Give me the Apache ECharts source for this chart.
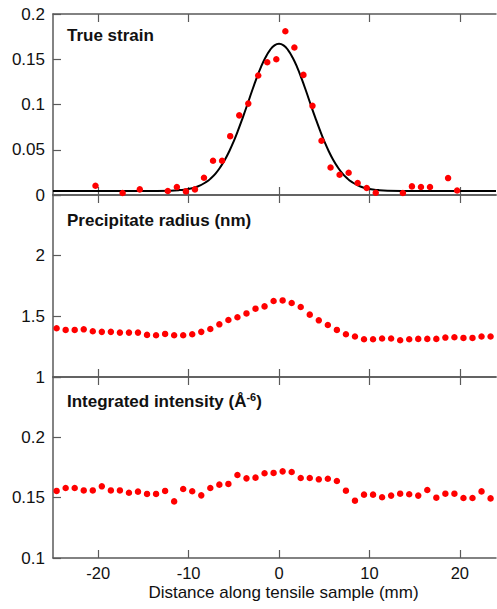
<!DOCTYPE html>
<html><head><meta charset="utf-8">
<script src="https://cdn.jsdelivr.net/npm/echarts@6/dist/echarts.min.js"></script>
<style>html,body{margin:0;padding:0;background:#fff;}#c{width:497px;height:609px;}</style>
</head><body><div id="c"></div>
<script>
// True strain measured points
const strainX = [-20.3,-17.3,-15.4,-12.3,-11.3,-10.3,-9.3,-8.3,-7.3,-6.3,-5.4,-4.4,-3.4,-2.3,-1.3,-0.3,0.7,1.7,2.7,3.7,4.7,5.7,6.7,7.7,8.7,9.7,10.7,13.7,14.7,15.7,16.7,18.7,19.7];
const strainY = [0.0102,0.0022,0.0062,0.0044,0.0088,0.004,0.0062,0.019,0.0378,0.0378,0.065,0.088,0.101,0.132,0.1467,0.150,0.181,0.163,0.1327,0.0985,0.0599,0.0304,0.0224,0.0246,0.0132,0.0077,0.0025,0.0022,0.0095,0.0088,0.0088,0.0187,0.005];
// fitted curve
const fitX = [-25,-15,-12,-11,-10,-9,-8,-7.5,-7,-6.5,-6,-5.5,-5,-4.5,-4,-3.5,-3,-2.5,-2,-1.5,-1,-0.5,0,0.5,1,1.5,2,2.5,3,3.5,4,4.5,5,5.5,6,6.5,7,7.5,8,9,10,11,12,15,24];
const fitY = [0.0045,0.0045,0.0048,0.0054,0.0067,0.0094,0.0147,0.0188,0.024,0.0307,0.0387,0.0484,0.0596,0.0722,0.0858,0.100,0.1146,0.1285,0.1412,0.1519,0.1601,0.1653,0.167,0.1653,0.1601,0.1519,0.1412,0.1285,0.1146,0.100,0.0858,0.0722,0.0596,0.0484,0.0387,0.0307,0.024,0.0188,0.0147,0.0094,0.0067,0.0054,0.0048,0.0045,0.0045];
// scan positions for radius and intensity
const scanPos = [-24.6,-23.6,-22.6,-21.6,-20.6,-19.6,-18.6,-17.6,-16.6,-15.6,-14.6,-13.6,-12.6,-11.6,-10.6,-9.6,-8.6,-7.6,-6.6,-5.6,-4.6,-3.6,-2.6,-1.6,-0.6,0.4,1.4,2.4,3.4,4.4,5.4,6.4,7.4,8.4,9.4,10.4,11.4,12.4,13.4,14.4,15.4,16.4,17.4,18.4,19.4,20.4,21.4,22.4,23.4];
const radius = [1.402,1.388,1.388,1.393,1.377,1.372,1.372,1.366,1.366,1.366,1.347,1.344,1.355,1.344,1.344,1.352,1.372,1.396,1.434,1.470,1.492,1.524,1.563,1.582,1.626,1.631,1.610,1.577,1.514,1.467,1.429,1.388,1.352,1.334,1.311,1.311,1.317,1.317,1.303,1.311,1.314,1.314,1.314,1.325,1.328,1.322,1.322,1.334,1.334];
const intensity = [0.1556,0.158,0.158,0.156,0.156,0.1594,0.156,0.156,0.1541,0.155,0.1531,0.1531,0.1556,0.1469,0.1572,0.1553,0.1519,0.158,0.1608,0.1614,0.1688,0.166,0.1666,0.1702,0.1705,0.1718,0.1713,0.1663,0.1663,0.1652,0.1657,0.1638,0.1558,0.1475,0.1525,0.1525,0.1503,0.1517,0.1533,0.1528,0.1517,0.1564,0.15,0.1533,0.1533,0.1497,0.1497,0.1552,0.1494];
const xTicks = [-20,-10,0,10,20];
const titles = ['True strain','Precipitate radius (nm)'];
const xTitle = 'Distance along tensile sample (mm)';

const zip = (a,b)=>a.map((v,i)=>[v,b[i]]);
const axisCol = '#5a5a5a';
const font = 'Liberation Sans, Arial, sans-serif';
const grids = [
  {left:53, right:1, top:14, height:181, outerBoundsMode:'none'},
  {left:53, right:1, top:195, height:182, outerBoundsMode:'none'},
  {left:53, right:1, top:377, height:181, outerBoundsMode:'none'}
];
const xAxes = [];
grids.forEach((g,i)=>{
  ['bottom','top'].forEach(pos=>{
    const isMain = (i===2 && pos==='bottom');
    xAxes.push({
      type:'value', gridIndex:i, position:pos, min:-25, max:24,
      axisLine:{show:true, onZero:false, lineStyle:{color:axisCol, width:1.5}},
      axisTick:{show:true, inside:true, length:8, customValues:xTicks, lineStyle:{color:axisCol, width:1.2}},
      splitLine:{show:false},
      axisLabel:{show:isMain, margin:6, color:'#111', fontSize:16.5, fontFamily:font, customValues:xTicks}
    });
  });
});
const yCfg = [
  {min:0, max:0.2, interval:0.05, hide:null},
  {min:1, max:2.5, interval:0.5, hide:2.5},
  {min:0.1, max:0.25, interval:0.05, hide:0.25}
];
const yAxes = yCfg.map((c,i)=>({
  type:'value', gridIndex:i, position:'left', min:c.min, max:c.max, interval:c.interval,
  axisLine:{show:true, onZero:false, lineStyle:{color:axisCol, width:1.5}},
  axisTick:{show:true, inside:true, length:8, lineStyle:{color:axisCol, width:1.2}},
  splitLine:{show:false},
  axisLabel:{margin:8, color:'#111', fontSize:17, fontFamily:font,
    formatter:(v)=> (c.hide!==null && Math.abs(v-c.hide)<1e-9) ? '' : String(Math.round(v*1000)/1000)}
}));
const dot = {color:'#ff0000', opacity:1};
const option = {
  animation:false,
  textStyle:{fontFamily:font},
  title:[
    {text:titles[0], left:67, top:27, padding:0, textStyle:{fontSize:17, fontWeight:'bold', color:'#111', fontFamily:font}},
    {text:titles[1], left:67, top:212, padding:0, textStyle:{fontSize:17, fontWeight:'bold', color:'#111', fontFamily:font}},
    {text:'{a|Integrated intensity (Å}{s|-6}{a|)}', left:67, top:391, padding:0,
     textStyle:{rich:{
       a:{fontSize:17, fontWeight:'bold', color:'#111', fontFamily:font, lineHeight:20},
       s:{fontSize:11, fontWeight:'bold', color:'#111', fontFamily:font, lineHeight:12, verticalAlign:'top'}
     }}}
  ],
  graphic:[
    {type:'text', x:283.5, y:584, style:{text:xTitle, fill:'#111', font:'17px Liberation Sans, Arial, sans-serif',
      textAlign:'center', textVerticalAlign:'top'}}
  ],
  grid:grids, xAxis:xAxes, yAxis:yAxes,
  series:[
    {type:'line', xAxisIndex:0, yAxisIndex:0, data:zip(fitX,fitY), smooth:true, showSymbol:false, symbol:'none',
     lineStyle:{color:'#000', width:2}, z:2},
    {type:'scatter', xAxisIndex:0, yAxisIndex:0, data:zip(strainX,strainY), symbolSize:6.5, itemStyle:dot, z:3},
    {type:'scatter', xAxisIndex:2, yAxisIndex:1, data:zip(scanPos,radius), symbolSize:6.5, itemStyle:dot},
    {type:'scatter', xAxisIndex:4, yAxisIndex:2, data:zip(scanPos,intensity), symbolSize:6.5, itemStyle:dot}
  ]
};
const chart = echarts.init(document.getElementById('c'), null, {renderer:'svg'});
chart.setOption(option);
</script></body></html>
